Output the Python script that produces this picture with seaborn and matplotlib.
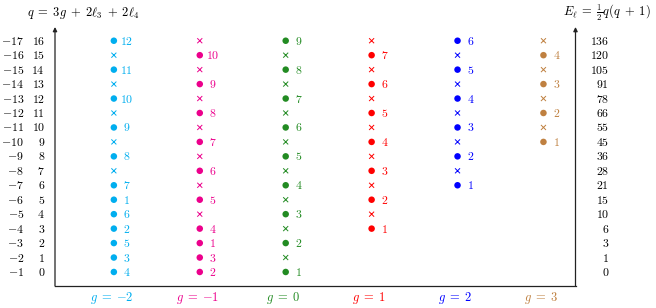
import numpy as np
import pandas as pd
import seaborn as sns
import matplotlib.pyplot as plt

plt.rcParams['mathtext.fontset'] = 'cm'
plt.rcParams['font.family'] = 'serif'
plt.rcParams['font.serif'] = ['cmr10', 'DejaVu Serif']
plt.rcParams['axes.formatter.use_mathtext'] = True

# colonnes g et lignes q
g_cols = [-2, -1, 0, 1, 2, 3]
q_rows = [0, 1, 2, 3, 4, 5, 6, 7, 8, 9, 10, 11, 12, 13, 14, 15, 16]
col_colors = ['#00AEEF', '#EC008C', '#228B22', '#FF0000', '#0000FF', '#BF8040']

# etiquettes par colonne (du bas q=0 vers le haut), 0 = croix, None = vide
lab_gm2 = [4, 3, 5, 2, 6, 1, 7, 0, 8, 0, 9, 0, 10, 0, 11, 0, 12]
lab_gm1 = [2, 3, 1, 4, 0, 5, 0, 6, 0, 7, 0, 8, 0, 9, 0, 10, 0]
lab_g0 = [1, 0, 2, 0, 3, 0, 4, 0, 5, 0, 6, 0, 7, 0, 8, 0, 9]
lab_g1 = [None, None, None, 1, 0, 2, 0, 3, 0, 4, 0, 5, 0, 6, 0, 7, 0]
lab_g2 = [None, None, None, None, None, None, 1, 0, 2, 0, 3, 0, 4, 0, 5, 0, 6]
lab_g3 = [None, None, None, None, None, None, None, None, None, 1, 0, 2, 0, 3, 0, 4, 0]

# graduations gauche et droite
left_neg = [-1, -2, -3, -4, -5, -6, -7, -8, -9, -10, -11, -12, -13, -14, -15, -16, -17]
energy = [0, 1, 3, 6, 10, 15, 21, 28, 36, 45, 55, 66, 78, 91, 105, 120, 136]

# construction du tableau long
rows = []
for g, labs in zip(g_cols, [lab_gm2, lab_gm1, lab_g0, lab_g1, lab_g2, lab_g3]):
    for q, lab in zip(q_rows, labs):
        if lab is None:
            continue
        rows.append({'g': g, 'q': q, 'lab': lab, 'kind': 'dot' if lab > 0 else 'cross'})
df = pd.DataFrame(rows)
palette = dict(zip(g_cols, col_colors))

fig = plt.figure(figsize=(6.56, 3.08), dpi=100)
ax = fig.add_axes([55 / 656, 22 / 308, 520.5 / 656, 259 / 308])

dots = df[df['kind'] == 'dot']
crosses = df[df['kind'] == 'cross']
sns.scatterplot(data=dots, x='g', y='q', hue='g', palette=palette, s=22,
                linewidth=0, legend=False, ax=ax, clip_on=False)
sns.scatterplot(data=crosses, x='g', y='q', hue='g', palette=palette, marker='x',
                s=13, linewidth=0.7, legend=False, ax=ax, clip_on=False)

for _, r in dots.iterrows():
    ax.text(r['g'] + 0.15, r['q'], f"${int(r['lab'])}$", color=palette[r['g']],
            fontsize=8.5, ha='center', va='center')

ax.set_xlim(-2.685, 3.373)
ax.set_ylim(-0.97, 16.95)
ax.set_xticks([])
ax.set_yticks([])
ax.set_xlabel('')
ax.set_ylabel('')
for s in ax.spines.values():
    s.set_visible(False)

# axes: ligne du bas et fleches verticales
ax.plot([0, 1], [0, 0], transform=ax.transAxes, color='#222222', lw=0.9, clip_on=False)
for xa in [0, 1]:
    ax.annotate('', xy=(xa, 1), xytext=(xa, 0), xycoords='axes fraction',
                arrowprops=dict(arrowstyle='-|>', color='#222222', lw=0.9,
                                mutation_scale=6, shrinkA=0, shrinkB=0))

ytr = ax.get_yaxis_transform()
for q, n, e in zip(q_rows, left_neg, energy):
    ax.text(-0.0596, q, f"${n}$", transform=ytr, ha='right', va='center', fontsize=8.5)
    ax.text(-0.0192, q, f"${q}$", transform=ytr, ha='right', va='center', fontsize=8.5)
    ax.text(1.0645, q, f"${e}$", transform=ytr, ha='right', va='center', fontsize=8.5)

xtr = ax.get_xaxis_transform()
for g, c in zip(g_cols, col_colors):
    ax.text(g - 0.03, -0.045, f"$g\\;=\\;{{{g}}}$", transform=xtr, color=c,
            ha='center', va='center', fontsize=9)

fig.text(27 / 656, 1 - 13 / 308, r'$q\;=\;3g\;+\;2\ell_3\;+\;2\ell_4$', ha='left',
         va='center', fontsize=9)
fig.text(651 / 656, 1 - 13 / 308, r'$E_\ell\;=\;\frac{1}{2}q(q\;+\;1)$', ha='right',
         va='center', fontsize=9)

fig.savefig('out.png', dpi=100)
